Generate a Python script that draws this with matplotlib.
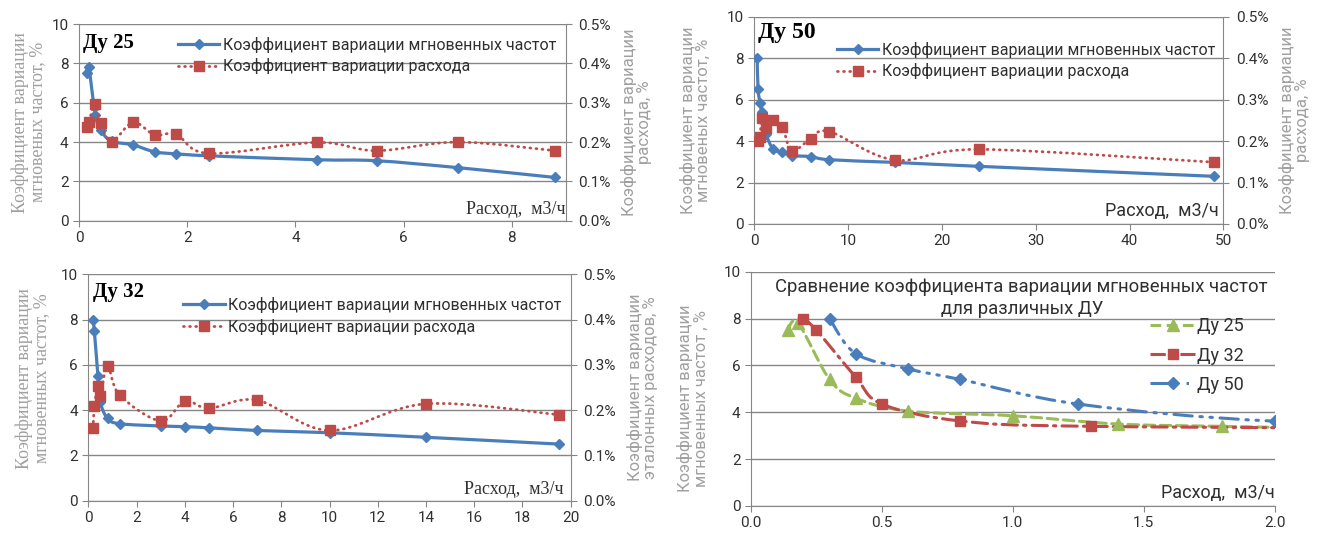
import numpy as np
import matplotlib
matplotlib.use('Agg')
import matplotlib.pyplot as plt
from matplotlib.path import Path
from matplotlib.patches import PathPatch
from matplotlib.lines import Line2D

plt.rcParams['font.family'] = ['Roboto', 'DejaVu Sans']
SERIF = ['Liberation Serif', 'DejaVu Serif']

# --- data ---
# Ду 25
q25 = [0.14, 0.18, 0.3, 0.4, 0.6, 1.0, 1.4, 1.8, 2.4, 4.4, 5.5, 7.0, 8.8]
kf25 = [7.5, 7.8, 5.4, 4.6, 4.05, 3.85, 3.5, 3.4, 3.3, 3.1, 3.05, 2.7, 2.2]
kq25 = [0.238, 0.252, 0.297, 0.248, 0.201, 0.250, 0.218, 0.220, 0.171, 0.199, 0.178, 0.200, 0.178]
# Ду 50
q50 = [0.3, 0.4, 0.6, 0.8, 1.25, 2.0, 3.0, 4.0, 6.0, 8.0, 15, 24, 49]
kf50 = [8.0, 6.5, 5.85, 5.4, 4.35, 3.62, 3.45, 3.3, 3.25, 3.1, 2.97, 2.78, 2.3]
q50r = [0.4, 0.6, 0.8, 1.25, 2.0, 3.0, 4.0, 6.0, 8.0, 15, 24, 49]
kq50 = [0.200, 0.210, 0.255, 0.231, 0.250, 0.233, 0.177, 0.205, 0.223, 0.154, 0.180, 0.149]
# Ду 32
q32 = [0.2, 0.25, 0.4, 0.5, 0.8, 1.3, 3.0, 4.0, 5.0, 7.0, 10, 14, 19.5]
kf32 = [8.0, 7.5, 5.5, 4.35, 3.63, 3.4, 3.3, 3.27, 3.22, 3.1, 3.0, 2.8, 2.5]
kq32 = [0.160, 0.208, 0.253, 0.232, 0.297, 0.233, 0.176, 0.220, 0.204, 0.222, 0.155, 0.214, 0.190]

BLUE = '#4A7EBB'
RED = '#BE4B48'
GREEN = '#9BBB59'
GRID = '#868686'
LGRAY = '#A0A0A0'
TXT = '#303030'

lbl_f = 'Коэффициент вариации мгновенных частот'
lbl_q = 'Коэффициент вариации расхода'
xlab = 'Расход,  м3/ч'


def smooth_path(x, y):
    # excel-ish smoothed line (bezier through the points)
    p = np.column_stack([x, y]).astype(float)
    verts = [p[0]]
    codes = [Path.MOVETO]
    n = len(p)
    for i in range(n - 1):
        p0 = p[i - 1] if i > 0 else p[i]
        p1, p2 = p[i], p[i + 1]
        p3 = p[i + 2] if i + 2 < n else p[i + 1]
        verts += [p1 + (p2 - p0) / 6, p2 - (p3 - p1) / 6, p2]
        codes += [Path.CURVE4] * 3
    return Path(verts, codes)


def curve(ax, x, y, color, lw, ls, marker, ms):
    ax.add_patch(PathPatch(smooth_path(x, y), fill=False, edgecolor=color, lw=lw,
                           ls=ls, capstyle='round', joinstyle='round', zorder=2))
    ax.plot(x, y, ls='none', marker=marker, ms=ms, color=color, zorder=3)


def style(ax, xlim, xticks, fmt, right=False):
    ax.set_xlim(*xlim)
    ax.set_ylim(0, 10)
    ax.set_xticks(xticks)
    ax.set_xticklabels([fmt.format(v) for v in xticks])
    ax.set_yticks(range(0, 11, 2))
    ax.yaxis.grid(True, color=GRID, lw=1)
    ax.set_axisbelow(True)
    for s in ['top', 'right']:
        ax.spines[s].set_visible(False)
    for s in ['left', 'bottom']:
        ax.spines[s].set_color(GRID)
    ax.tick_params(direction='out', length=4, color=GRID, labelsize=11, labelcolor=TXT)


def twin(ax, vals_x, vals_y, ylabel, lx):
    a2 = ax.twinx()
    a2.set_ylim(0, 0.5)
    ticks = np.arange(0, 0.51, 0.1)
    a2.set_yticks(ticks)
    a2.set_yticklabels(['{:.1f}%'.format(t) for t in ticks])
    for s in ['top', 'left', 'bottom']:
        a2.spines[s].set_visible(False)
    a2.spines['right'].set_color(GRID)
    a2.tick_params(direction='out', length=4, color=GRID, labelsize=11, labelcolor=TXT, pad=5)
    curve(a2, vals_x, vals_y, RED, 2.0, (0, (0.3, 1.9)), 's', 7)
    a2.set_ylabel(ylabel, color=LGRAY, fontsize=12, va='center', linespacing=1.0)
    a2.yaxis.set_label_coords(lx, 0.5)
    return a2


def legend2(ax, x, y):
    h = [Line2D([], [], color=BLUE, lw=2.3, marker='D', ms=5.5),
         Line2D([], [], color=RED, lw=2.0, ls=(0, (0.3, 1.9)), marker='s', ms=7,
                dash_capstyle='round')]
    ax.legend(h, [lbl_f, lbl_q], loc='upper left', bbox_to_anchor=(x, y), frameon=False,
              fontsize=11.5, handlelength=2.6, handletextpad=0.2, labelspacing=0.35,
              borderaxespad=0, borderpad=0, labelcolor=TXT)


fig = plt.figure(figsize=(13.22, 5.36), dpi=100)

# Ду 25
ax1 = fig.add_axes([0.0598, 0.5882, 0.3682, 0.3670])
style(ax1, (0, 9), [0, 2, 4, 6, 8], '{:g}')
curve(ax1, q25, kf25, BLUE, 2.3, '-', 'D', 5.5)
ax1.set_ylabel('Коэффициент вариации\nмгновеных частот, %', color=LGRAY, fontsize=13,
               family=SERIF, va='center', linespacing=1.0)
ax1.yaxis.set_label_coords(-0.104, 0.5)
a1 = twin(ax1, q25, kq25, 'Коэффициент вариации\nрасхода, %', 1.146)
ax1.text(0.008, 0.905, 'Ду 25', transform=ax1.transAxes, fontsize=15, fontweight='bold',
         family=SERIF, va='center')
ax1.text(1.0, 0.055, xlab, transform=ax1.transAxes, fontsize=13, family=SERIF,
         ha='right', va='center', color=TXT)
legend2(a1, 0.203, 0.935)

# Ду 50
ax2 = fig.add_axes([0.5706, 0.5821, 0.3548, 0.3868])
style(ax2, (0, 50), [0, 10, 20, 30, 40, 50], '{:g}')
curve(ax2, q50, kf50, BLUE, 2.3, '-', 'D', 5.5)
ax2.set_ylabel('Коэффициент вариации\nмгновеных частот, %', color=LGRAY, fontsize=12,
               va='center', linespacing=1.0)
ax2.yaxis.set_label_coords(-0.126, 0.5)
a2 = twin(ax2, q50r, kq50, 'Коэффициент вариации\nрасхода, %', 1.151)
ax2.text(0.008, 0.922, 'Ду 50', transform=ax2.transAxes, fontsize=17, fontweight='bold',
         family=SERIF, va='center')
ax2.text(0.99, 0.064, xlab, transform=ax2.transAxes, fontsize=13,
         ha='right', va='center', color=TXT)
legend2(a2, 0.176, 0.88)

# Ду 32
ax3 = fig.add_axes([0.0668, 0.0659, 0.3649, 0.4224])
style(ax3, (0, 20), list(range(0, 21, 2)), '{:g}')
curve(ax3, q32, kf32, BLUE, 2.3, '-', 'D', 5.5)
ax3.set_ylabel('Коэффициент вариации\nмгновенных частот, %', color=LGRAY, fontsize=13,
               family=SERIF, va='center', linespacing=1.0)
ax3.yaxis.set_label_coords(-0.115, 0.54)
a3 = twin(ax3, q32, kq32, 'Коэффициент вариации\nэталонных расходов, %', 1.148)
ax3.text(0.009, 0.92, 'Ду 32', transform=ax3.transAxes, fontsize=15, fontweight='bold',
         family=SERIF, va='center')
ax3.text(0.985, 0.05, xlab, transform=ax3.transAxes, fontsize=13, family=SERIF,
         ha='right', va='center', color=TXT)
legend2(a3, 0.197, 0.9)

# comparison
ax4 = fig.add_axes([0.5681, 0.0560, 0.3961, 0.4371])
style(ax4, (0, 2), [0, 0.5, 1.0, 1.5, 2.0], '{:.1f}')
curve(ax4, q25, kf25, GREEN, 2.2, (0, (3.5, 1.8)), '^', 8)
curve(ax4, q32, kf32, RED, 2.2, (0, (5, 2, 0.8, 2)), 's', 7.5)
curve(ax4, q50, kf50, BLUE, 2.2, (0, (6, 2.5, 0.8, 2.5, 0.8, 2.5)), 'D', 6)
ax4.set_ylabel('Коэффициент вариации\nмгновенных частот , %', color=LGRAY, fontsize=12,
               va='center', linespacing=1.0)
ax4.yaxis.set_label_coords(-0.111, 0.46)
ax4.text(0.517, 0.888, 'Сравнение коэффициента вариации мгновенных частот\nдля различных ДУ',
         transform=ax4.transAxes, fontsize=13.3, ha='center', va='center', color=TXT,
         linespacing=1.25)
ax4.text(1.0, 0.054, xlab, transform=ax4.transAxes, fontsize=13,
         ha='right', va='center', color=TXT)
h4 = [Line2D([], [], color=GREEN, lw=2.2, ls=(0, (3.5, 1.8)), marker='^', ms=8),
      Line2D([], [], color=RED, lw=2.2, ls=(0, (5, 2, 0.8, 2)), marker='s', ms=7.5),
      Line2D([], [], color=BLUE, lw=2.2, ls=(0, (6, 2.5, 0.8, 2.5, 0.8, 2.5)), marker='D', ms=6)]
ax4.legend(h4, ['Ду 25', 'Ду 32', 'Ду 50'], loc='upper left', bbox_to_anchor=(0.762, 0.805),
           frameon=False, fontsize=13, handlelength=2.5, handletextpad=0.1,
           labelspacing=0.62, borderaxespad=0, borderpad=0, labelcolor=TXT)

fig.savefig('out.png', dpi=100)
